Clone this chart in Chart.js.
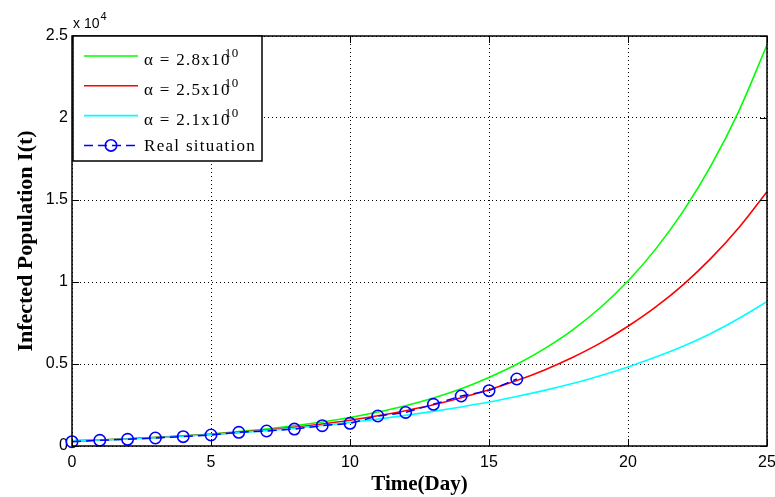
<!DOCTYPE html>
<html>
<head>
<meta charset="utf-8">
<script src="https://cdn.jsdelivr.net/npm/chart.js@4"></script>
<style>
html, body { margin: 0; padding: 0; background: #fff; }
#wrap { width: 775px; height: 497px; }
</style>
</head>
<body>
<div id="wrap"><canvas id="infChart" width="775" height="497"></canvas></div>
<script>
// Dados (eixo y em pessoas, rotulado em x 10^4)
var days = [0,1,2,3,4,5,6,7,8,9,10,11,12,13,14,15,16,17,18,19,20,21,22,23,24,25]
var alpha28 = [310,370,440,525,620,735,875,1040,1235,1465,1740,2070,2460,2930,3490,4180,4980,5940,7070,8430,10060,12020,14350,17140,20470,24450]
var alpha25 = [310,370,440,520,610,710,830,975,1140,1340,1570,1840,2150,2510,2940,3430,3990,4640,5395,6270,7300,8480,9860,11470,13340,15510]
var alpha21 = [310,365,430,505,595,700,810,935,1080,1250,1440,1640,1865,2110,2380,2680,3020,3390,3810,4280,4820,5420,6100,6880,7790,8800]
var realDays = [0,1,2,3,4,5,6,7,8,9,10,11,12,13,14,15,16]
var realCases = [262,348,408,488,570,671,834,915,1030,1240,1382,1830,2045,2541,3049,3375,4085]

var seriesNames = ['α = 2.8x10', 'α = 2.5x10', 'α = 2.1x10', 'Real situation']
var seriesSup = ['10', '10', '10', '']
var seriesColors = ['#00ff00', '#ff0000', '#00ffff', '#0000ff']
var xTicks = [0,5,10,15,20,25]
var yTicks = [0,0.5,1,1.5,2,2.5]
var yExponent = '4'

function pairs(xs, ys){
  return xs.map((x, i) => ({x: x, y: ys[i]}))
}

function curve(idx, values){
  return {
    label: seriesNames[idx],
    data: pairs(days, values),
    borderColor: seriesColors[idx],
    borderWidth: 1.6,
    pointRadius: 0,
    cubicInterpolationMode: 'monotone',
    order: 3 - idx
  }
}

// Caixa, marcas internas, "x 10^4" e legenda
var eixosMatlab = {
  id: 'eixosMatlab',
  afterDatasetsDraw: function(chart){
    var ctx = chart.ctx
    var a = chart.chartArea
    var sx = chart.scales.x, sy = chart.scales.y
    ctx.save()
    ctx.strokeStyle = '#000'
    ctx.lineWidth = 1
    ctx.beginPath()
    xTicks.forEach((v) => {
      var px = Math.round(sx.getPixelForValue(v)) + 0.5
      ctx.moveTo(px, a.bottom); ctx.lineTo(px, a.bottom - 7)
      ctx.moveTo(px, a.top); ctx.lineTo(px, a.top + 7)
    })
    yTicks.forEach((v) => {
      var py = Math.round(sy.getPixelForValue(v * 10000)) + 0.5
      ctx.moveTo(a.left, py); ctx.lineTo(a.left + 7, py)
      ctx.moveTo(a.right, py); ctx.lineTo(a.right - 7, py)
    })
    ctx.stroke()
    ctx.lineWidth = 1.5
    ctx.strokeRect(a.left, a.top, a.right - a.left, a.bottom - a.top)

    ctx.fillStyle = '#000'
    ctx.textBaseline = 'alphabetic'
    ctx.font = '14px "Liberation Sans"'
    ctx.fillText('x 10', a.left + 1, 28)
    var w = ctx.measureText('x 10').width
    ctx.font = '11px "Liberation Sans"'
    ctx.fillText(yExponent, a.left + 2 + w, 20)
    ctx.restore()
  },
  afterDraw: function(chart){
    var ctx = chart.ctx
    var ds = chart.data.datasets
    var x0 = 73, y0 = 36, w = 189, h = 125
    ctx.save()
    ctx.fillStyle = '#fff'
    ctx.fillRect(x0, y0, w, h)
    ctx.strokeStyle = '#000'
    ctx.lineWidth = 1.5
    ctx.strokeRect(x0, y0, w, h)

    seriesNames.forEach((name, i) => {
      var y = 56 + i * 29.8
      var d = ds.find((s) => s.label == name)
      ctx.strokeStyle = d.borderColor
      ctx.lineWidth = d.borderWidth
      ctx.setLineDash(d.borderDash || [])
      ctx.beginPath()
      ctx.moveTo(84, y); ctx.lineTo(138, y)
      ctx.stroke()
      ctx.setLineDash([])
      if ( d.pointRadius > 0 ){
        ctx.beginPath()
        ctx.arc(111, y, d.pointRadius, 0, Math.PI * 2)
        ctx.lineWidth = d.pointBorderWidth
        ctx.stroke()
      }
      ctx.fillStyle = '#000'
      ctx.font = '17px "Liberation Serif"'
      ctx.letterSpacing = '1.3px'
      var base = seriesSup[i] ? y + 9 : y + 6
      ctx.fillText(name, 144, base)
      if ( seriesSup[i] ){
        var tw = ctx.measureText(name).width
        ctx.font = '13px "Liberation Serif"'
        ctx.letterSpacing = '0.5px'
        ctx.fillText(seriesSup[i], 144 + tw - 6, base - 8)
      }
      ctx.letterSpacing = '0px'
    })
    ctx.restore()
  }
}

var infChart = new Chart(document.getElementById('infChart'), {
  type: 'line',
  data: {
    datasets: [
      {
        label: seriesNames[3],
        data: pairs(realDays, realCases),
        borderColor: seriesColors[3],
        borderWidth: 1.5,
        borderDash: [9, 5],
        pointRadius: 5.7,
        pointBorderWidth: 1.6,
        pointBorderColor: seriesColors[3],
        pointBackgroundColor: 'rgba(0,0,0,0)',
        tension: 0,
        clip: false,
        order: 0
      },
      curve(2, alpha21),
      curve(1, alpha25),
      curve(0, alpha28)
    ]
  },
  options: {
    responsive: false,
    animation: false,
    devicePixelRatio: 1,
    layout: {
      padding: {left: 0, right: 8, top: 36, bottom: 0}
    },
    plugins: {
      legend: { display: false },
      tooltip: { enabled: false }
    },
    scales: {
      x: {
        type: 'linear',
        min: 0,
        max: 25,
        afterBuildTicks: function(scale){
          scale.ticks = xTicks.map((v) => ({value: v}))
        },
        afterFit: function(scale){
          scale.height = 51
          scale.paddingLeft = 0
          scale.paddingRight = 0
        },
        ticks: {
          color: '#000',
          padding: 7,
          maxRotation: 0,
          font: { family: '"Liberation Sans"', size: 16 }
        },
        grid: {
          color: '#000',
          lineWidth: 1,
          drawTicks: false
        },
        border: { display: false, dash: [1, 3] },
        title: {
          display: true,
          text: 'Time(Day)',
          color: '#000',
          padding: {top: 0, bottom: 0},
          font: { family: '"Liberation Serif"', size: 21, weight: 'bold' }
        }
      },
      y: {
        type: 'linear',
        min: 0,
        max: 25000,
        afterBuildTicks: function(scale){
          scale.ticks = yTicks.map((v) => ({value: v * 10000}))
        },
        afterFit: function(scale){
          scale.width = 72
          scale.paddingTop = 0
          scale.paddingBottom = 0
        },
        ticks: {
          color: '#000',
          padding: 4,
          font: { family: '"Liberation Sans"', size: 16 },
          callback: function(v){ return String(v / 10000) }
        },
        grid: {
          color: '#000',
          lineWidth: 1,
          drawTicks: false
        },
        border: { display: false, dash: [1, 3] },
        title: {
          display: true,
          text: 'Infected Population I(t)',
          color: '#000',
          padding: {top: 13, bottom: 0},
          font: { family: '"Liberation Serif"', size: 22, weight: 'bold' }
        }
      }
    }
  },
  plugins: [eixosMatlab]
});
</script>
</body>
</html>
